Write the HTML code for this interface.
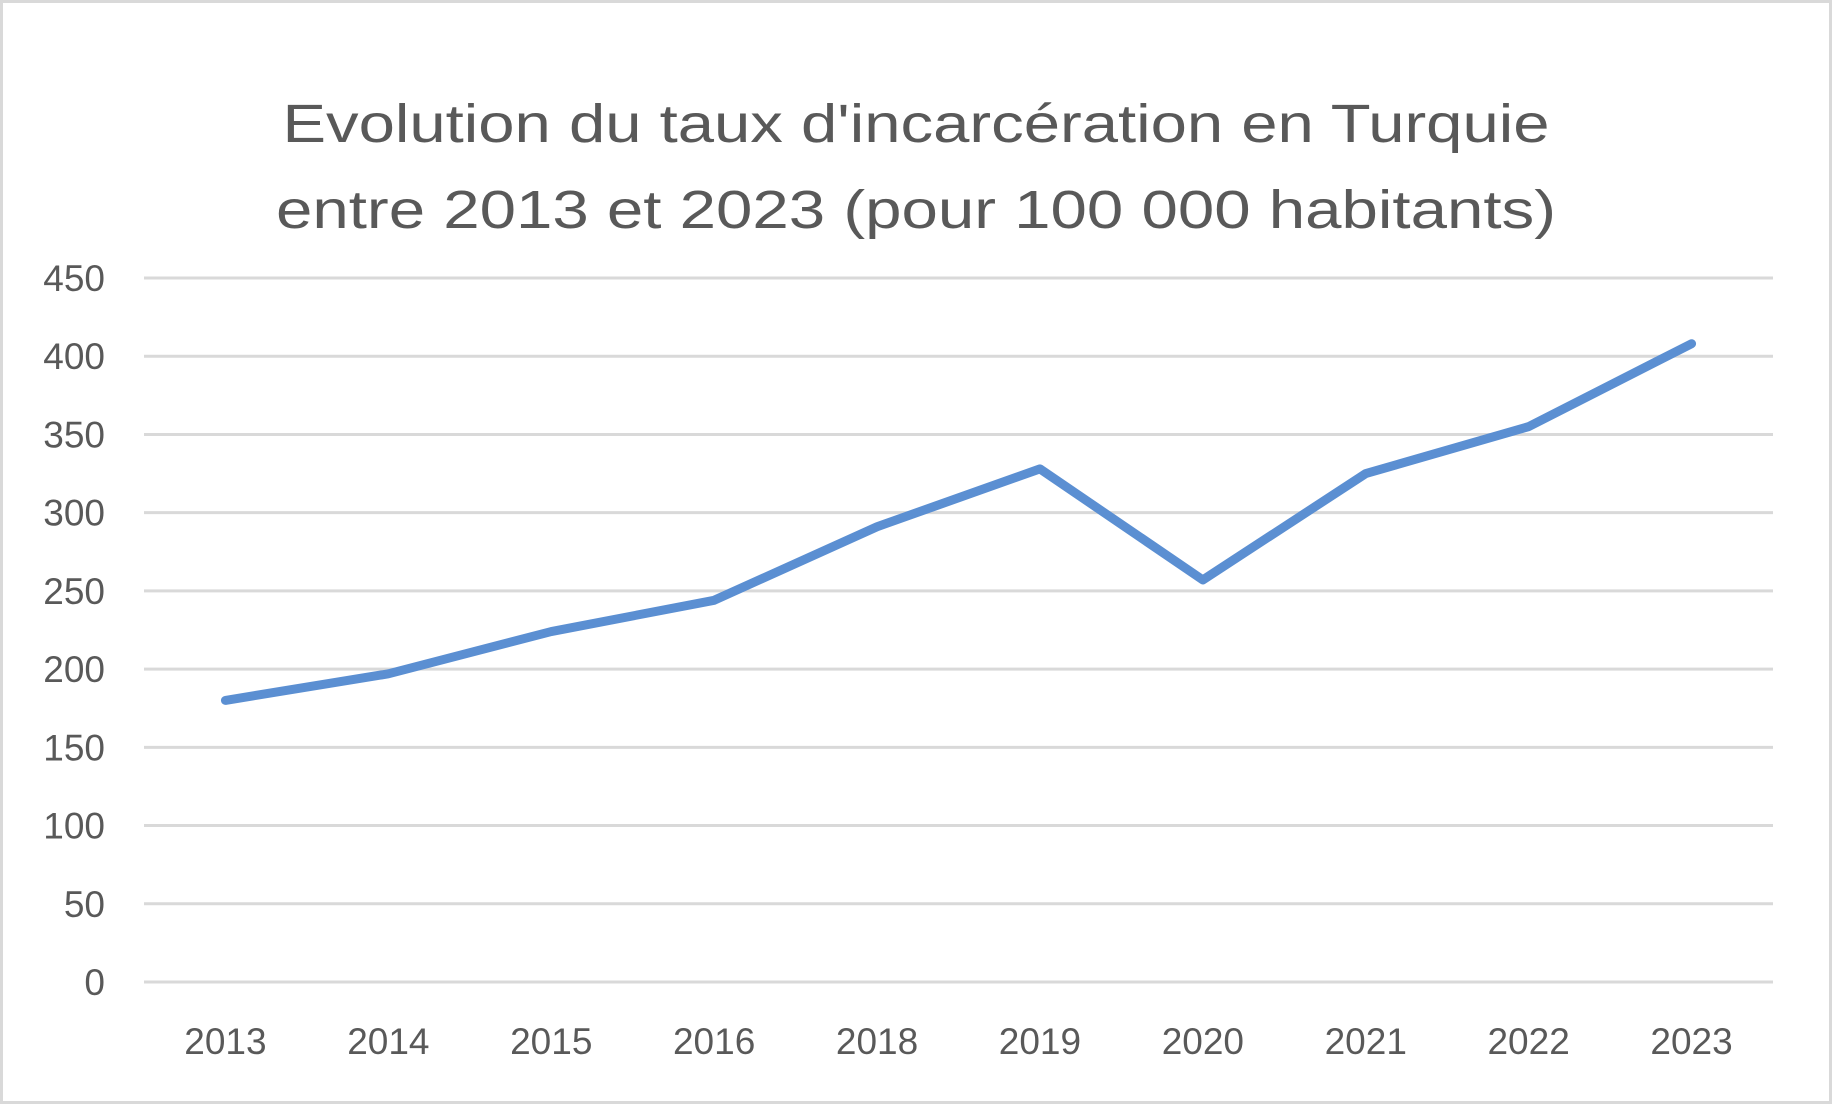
<!DOCTYPE html>
<html><head><meta charset="utf-8"><style>
html,body{margin:0;padding:0;background:#fff;}
svg{display:block;font-family:"Liberation Sans",sans-serif;}
</style></head><body>
<svg id="chart" width="1832" height="1104" viewBox="0 0 1832 1104">
<rect x="1.5" y="1.5" width="1829" height="1101" fill="#fff" stroke="#d9d9d9" stroke-width="3"/>
<text x="916" y="142" text-anchor="middle" font-size="54" fill="#595959" textLength="1267" lengthAdjust="spacingAndGlyphs">Evolution du taux d'incarcération en Turquie</text>
<text x="916" y="228" text-anchor="middle" font-size="54" fill="#595959" textLength="1280" lengthAdjust="spacingAndGlyphs">entre 2013 et 2023 (pour 100 000 habitants)</text>
<g id="grid"></g><g id="yticks"></g><g id="xticks"></g><g id="series"></g>
</svg>
<script>
const categories = ["2013","2014","2015","2016","2018","2019","2020","2021","2022","2023"];
const values = [180,197,224,244,291,328,257,325,355,408];
const yTicks = [0,50,100,150,200,250,300,350,400,450];
const NS="http://www.w3.org/2000/svg";
const x0=144,x1=1773,yTop=278,yBot=982,yMax=450;
const step=(x1-x0)/categories.length;
function xs(i){return x0+step*(i+0.5);}
function ys(v){return yBot-(v/yMax)*(yBot-yTop);}
const grid=document.getElementById('grid'),yt=document.getElementById('yticks'),xt=document.getElementById('xticks'),se=document.getElementById('series');
yTicks.forEach(t=>{
 const l=document.createElementNS(NS,'line');
 l.setAttribute('x1',x0);l.setAttribute('x2',x1);l.setAttribute('y1',ys(t));l.setAttribute('y2',ys(t));
 l.setAttribute('stroke','#d9d9d9');l.setAttribute('stroke-width','3');
 
 
 grid.appendChild(l);
 const tx=document.createElementNS(NS,'text');
 tx.setAttribute('x',105);tx.setAttribute('y',ys(t)+13);tx.setAttribute('text-anchor','end');
 tx.setAttribute('font-size','37');tx.setAttribute('fill','#595959');
 tx.textContent=t;
 
 
 yt.appendChild(tx);
});
categories.forEach((c,i)=>{
 const tx=document.createElementNS(NS,'text');
 tx.setAttribute('x',xs(i));tx.setAttribute('y',1054);tx.setAttribute('text-anchor','middle');
 tx.setAttribute('font-size','37');tx.setAttribute('fill','#595959');
 tx.textContent=c;
 
 
 xt.appendChild(tx);
});
const p=document.createElementNS(NS,'polyline');
p.setAttribute('points',values.map((v,i)=>xs(i)+','+ys(v)).join(' '));
p.setAttribute('fill','none');p.setAttribute('stroke','#5b8fd2');p.setAttribute('stroke-width','9');
p.setAttribute('stroke-linejoin','round');p.setAttribute('stroke-linecap','round');


se.appendChild(p);
</script>
</body></html>
